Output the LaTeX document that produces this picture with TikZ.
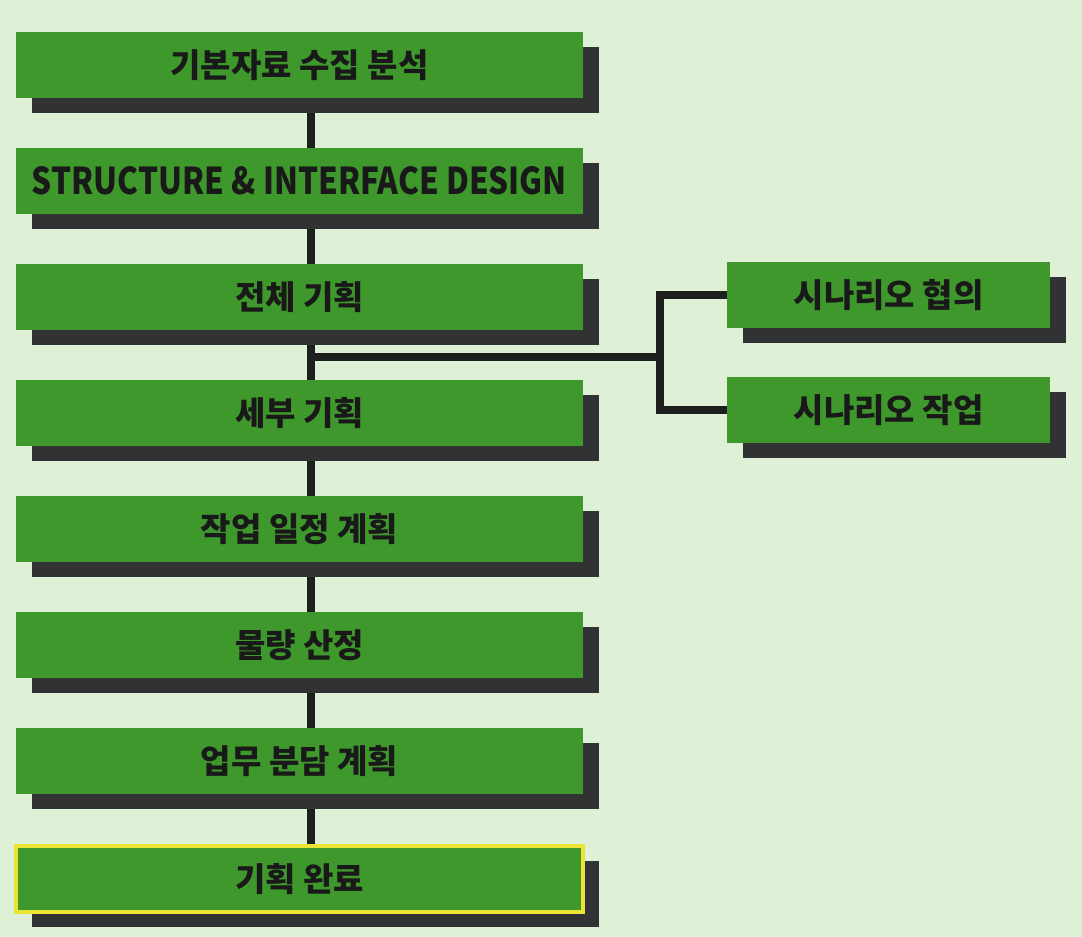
\documentclass[tikz,border=0pt]{standalone}
\usepackage{fontspec}
\usepackage{graphicx}
\newfontfamily\kr{Noto Sans CJK KR}
\usetikzlibrary{shadows,backgrounds}
\definecolor{bgc}{RGB}{222,240,213}
\definecolor{boxg}{RGB}{62,152,44}
\definecolor{shd}{RGB}{48,50,52}
\definecolor{linec}{RGB}{30,32,30}
\definecolor{yel}{RGB}{235,228,50}
\tikzset{
  stage/.style={fill=boxg, draw=none, minimum width=567pt, minimum height=66pt,
    inner sep=0pt, font=\kr\bfseries\fontsize{33}{33}\selectfont, text=black!90,
    drop shadow={shadow xshift=16pt, shadow yshift=-15pt, fill=shd, opacity=1}},
  side/.style={stage, minimum width=323pt},
  conn/.style={draw=linec, line width=8pt},
}
\begin{document}
\begin{tikzpicture}[x=1pt,y=-1pt]
\useasboundingbox (0,0) rectangle (1082,937);
\node[stage] (b1) at (299.5,65) {기본자료 수집 분석};
\node[stage] (b2) at (299.5,181) {\resizebox{535pt}{28pt}{\bfseries STRUCTURE \& INTERFACE DESIGN}};
\node[stage] (b3) at (299.5,297) {전체 기획};
\node[stage] (b4) at (299.5,413) {세부 기획};
\node[stage] (b5) at (299.5,529) {작업 일정 계획};
\node[stage] (b6) at (299.5,645) {물량 산정};
\node[stage] (b7) at (299.5,761) {업무 분담 계획};
\node[stage, draw=yel, line width=4pt] (b8) at (299.5,879) {기획 완료};
\node[side] (r1) at (888.5,295) {시나리오 협의};
\node[side] (r2) at (888.5,410) {시나리오 작업};
\coordinate (j) at (311,357);
\coordinate (k) at (660,357);
\begin{scope}[on background layer]
\fill[bgc] (0,0) rectangle (1082,937);
\foreach \a/\b in {b1/b2,b2/b3,b3/b4,b4/b5,b5/b6,b6/b7,b7/b8}{
  \draw[conn] ([xshift=11.5pt]\a.south) -- ([xshift=11.5pt]\b.north);
}
\draw[conn] (j) -- (k);
\draw[conn] (r1.west) -| (k) |- (r2.west);
\end{scope}
\end{tikzpicture}
\end{document}
